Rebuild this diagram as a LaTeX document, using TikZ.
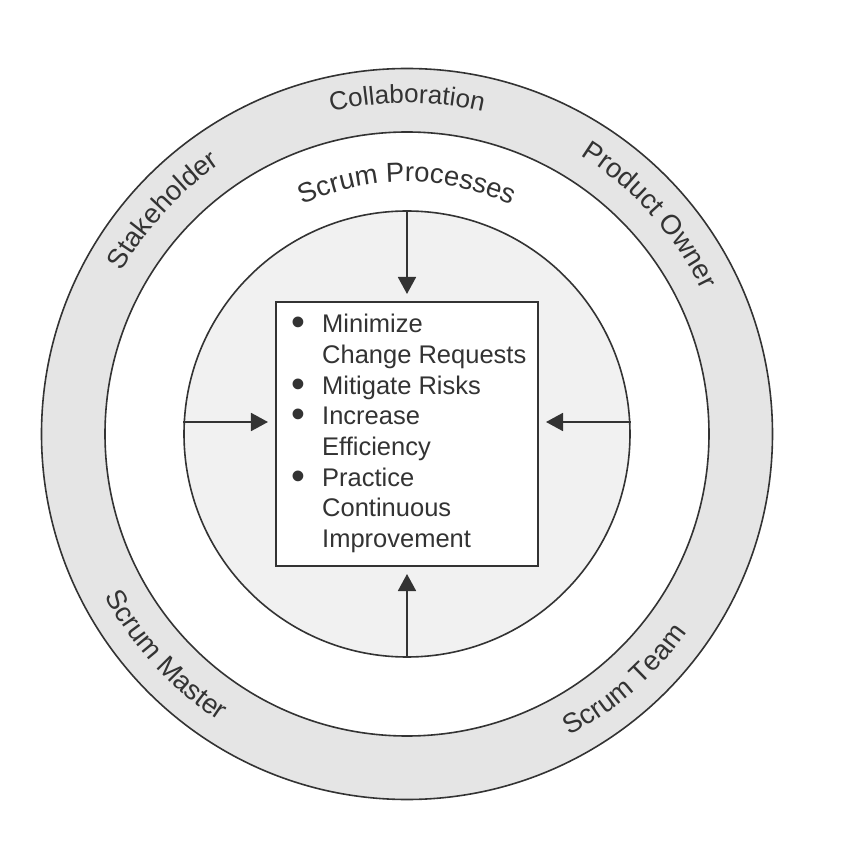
\documentclass[tikz,border=0pt]{standalone}
\usepackage{fontspec}
\setmainfont{Liberation Sans}
\usetikzlibrary{arrows.meta,decorations.text}

\definecolor{inkgray}{gray}{0.2}
\definecolor{ringgray}{gray}{0.9}
\definecolor{coregray}{gray}{0.945}
\newcommand\labelfont{\fontsize{25.5}{30.7}\selectfont}
\newcommand\ringfont{\fontsize{27.5}{30}\selectfont}
\newcommand\itembullet{\makebox[9pt]{\raisebox{-3pt}{\scalebox{1.55}{\textbullet}}}}

\tikzset{
  ring/.style={circle, draw=inkgray, line width=1.6pt, inner sep=0pt},
  arr/.style={-{Triangle[length=17pt,width=18pt]}, color=inkgray, line width=1.8pt, shorten >=7pt},
  ringlabel/.style={decorate, decoration={text along path, text align=center,
      text color=inkgray, text={|\ringfont|#1}}},
}

\begin{document}
\begin{tikzpicture}
  \useasboundingbox (-407pt,-430pt) rectangle (439pt,434pt);

  % rings
  \node[ring, fill=ringgray, minimum size=731pt] (outer) at (0,0) {};
  \node[ring, fill=white, minimum size=604pt] (middle) at (0,0) {};
  \node[ring, fill=coregray, minimum size=446pt] (core) at (0,0) {};

  % centre box
  \node[draw=inkgray, fill=white, line width=2pt, minimum width=262pt, minimum height=264pt] (box) at (0,0) {};
  \node[anchor=west, inner sep=0pt, text=inkgray, font=\labelfont] (items) at ([xshift=19pt]box.west) {%
    \begin{tabular}{@{}l@{\hspace{19pt}}l@{}}
      \itembullet & Minimize\\
                  & Change Requests\\
      \itembullet & Mitigate Risks\\
      \itembullet & Increase\\
                  & Efficiency\\
      \itembullet & Practice\\
                  & Continuous\\
                  & Improvement
    \end{tabular}};

  % arrows into the box
  \draw[arr] (core.north) -- (box.north);
  \draw[arr] (core.south) -- (box.south);
  \draw[arr] ([yshift=12pt]core.west) -- ([yshift=12pt]box.west);
  \draw[arr] ([yshift=12pt]core.east) -- ([yshift=12pt]box.east);

  % labels along the rings
  \path[decorate, decoration={text along path, text align=center, text color=inkgray,
      text={|\fontsize{26}{30}\selectfont|Collaboration}}]
    (135:331pt) arc[start angle=135, end angle=45, radius=331pt];
  \path[ringlabel=Stakeholder] (182.5:328pt) arc[start angle=182.5, end angle=92.5, radius=328pt];
  \path[ringlabel=Product Owner] (87:328pt) arc[start angle=87, end angle=-3, radius=328pt];
  \path[ringlabel=Scrum Master] (177.5:343pt) arc[start angle=177.5, end angle=267.5, radius=343pt];
  \path[ringlabel=Scrum Team] (266.5:343pt) arc[start angle=266.5, end angle=356.5, radius=343pt];
  \path[ringlabel=Scrum Processes] (135:252pt) arc[start angle=135, end angle=45, radius=252pt];
\end{tikzpicture}
\end{document}
